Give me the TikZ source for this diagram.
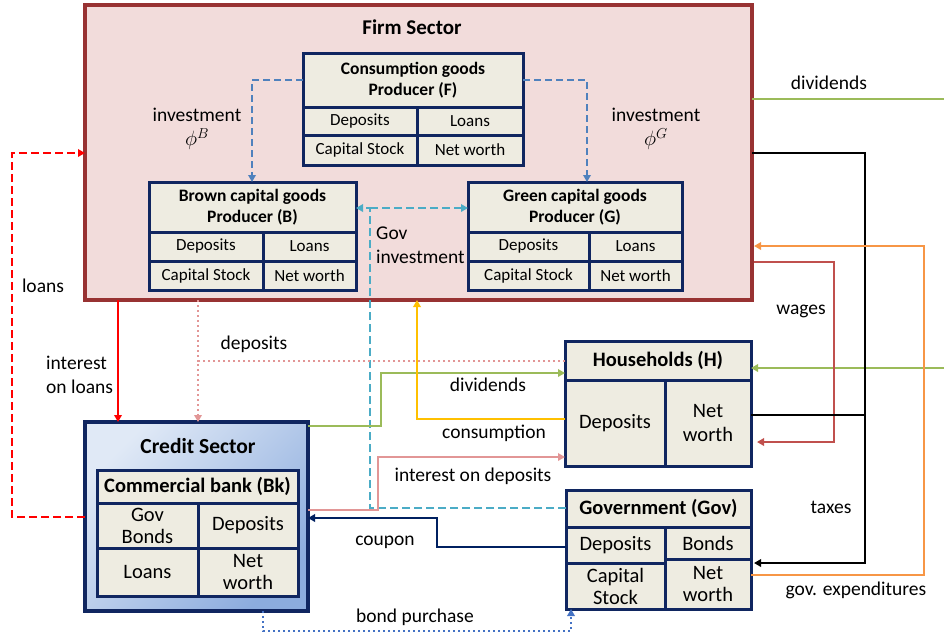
\documentclass[tikz,border=0pt]{standalone}
\usepackage{fontspec}
\setmainfont{Carlito}
\usetikzlibrary{arrows.meta}
\definecolor{firmbd}{RGB}{152,50,50}
\definecolor{firmbg}{RGB}{242,220,219}
\definecolor{cellbg}{RGB}{238,236,225}
\definecolor{navy}{RGB}{16,38,96}
\definecolor{credtop}{RGB}{224,233,246}
\definecolor{credbot}{RGB}{140,172,222}
\definecolor{invblue}{RGB}{79,129,189}
\definecolor{govcyan}{RGB}{75,172,198}
\definecolor{deppink}{RGB}{226,150,150}
\definecolor{divgreen}{RGB}{155,187,89}
\definecolor{consyel}{RGB}{255,192,0}
\definecolor{coupnavy}{RGB}{0,32,96}
\definecolor{bondblue}{RGB}{68,114,196}
\definecolor{wagered}{RGB}{192,80,77}
\definecolor{govorange}{RGB}{247,150,70}
\newcommand{\tcell}[7][]{\node[cell,minimum width={(#5-#3)*1pt},minimum height={(#6-#4)*1pt},#1] (#2) at ({(#3+#5)/2},{(#4+#6)/2}) {#7};}
\tikzset{
  cell/.style={draw=navy,fill=cellbg,line width=3pt,inner sep=0pt,outer sep=0pt,align=center,font=\fontsize{17}{20}\selectfont},
  smallhead/.style={font=\bfseries\fontsize{17.5}{21}\selectfont},
  bigcell/.style={font=\fontsize{20.5}{24}\selectfont},
  bighead/.style={font=\bfseries\fontsize{20.5}{24}\selectfont},
  lbl/.style={inner sep=0pt,align=center,font=\fontsize{19.5}{24}\selectfont},
  conn/.style={line width=2.8pt,-{Triangle[length=7pt,width=7.5pt]}},
  plain/.style={line width=2.8pt},
}
\begin{document}
\begin{tikzpicture}[x=1pt,y=-1pt]
\useasboundingbox (0,0) rectangle (944,633);
% Firm sector
\node[draw=firmbd,fill=firmbg,line width=4.5pt,minimum width=667pt,minimum height=295pt,inner sep=0pt,outer sep=0pt] (firm) at (418.5,152.5) {};
\node[inner sep=0pt,font=\bfseries\fontsize{21}{24}\selectfont] (firmtitle) at (412,27) {Firm Sector};
% Consumption goods producer F
\tcell[smallhead]{F}{303}{53}{523}{107}{Consumption goods\\Producer (F)}
\tcell{Fdep}{303}{107}{417}{135}{Deposits}
\tcell{Floan}{417}{107}{523}{135}{Loans}
\tcell{Fcap}{303}{135}{417}{165}{Capital Stock}
\tcell{Fnw}{417}{135}{523}{165}{Net worth}
% Brown B
\tcell[smallhead]{B}{149}{182}{356}{232}{Brown capital goods\\Producer (B)}
\tcell{Bdep}{149}{232}{263}{261}{Deposits}
\tcell{Bloan}{263}{232}{356}{261}{Loans}
\tcell{Bcap}{149}{261}{263}{290}{Capital Stock}
\tcell{Bnw}{263}{261}{356}{290}{Net worth}
% Green G
\tcell[smallhead]{G}{468}{182}{682}{232}{Green capital goods\\Producer (G)}
\tcell{Gdep}{468}{232}{589}{261}{Deposits}
\tcell{Gloan}{589}{232}{682}{261}{Loans}
\tcell{Gcap}{468}{261}{589}{290}{Capital Stock}
\tcell{Gnw}{589}{261}{682}{290}{Net worth}
% Credit sector
\node[draw=navy,line width=4pt,top color=credtop,bottom color=credbot,shading angle=45,minimum width=223pt,minimum height=189pt,inner sep=0pt,outer sep=0pt] (credit) at (196.5,516.5) {};
\node[inner sep=0pt,font=\bfseries\fontsize{21.5}{24}\selectfont] (credtitle) at (198,446) {Credit Sector};
\tcell[bighead]{bank}{97}{470}{298}{503}{Commercial bank (Bk)}
\tcell[bigcell]{bkbonds}{97}{503}{198}{548}{Gov\\[-2pt]Bonds}
\tcell[bigcell]{bkdep}{198}{503}{298}{548}{Deposits}
\tcell[bigcell]{bkloan}{97}{548}{198}{596}{Loans}
\tcell[bigcell]{bknw}{198}{548}{298}{596}{Net\\[-2pt]worth}
% Households
\tcell[draw=none,fill=none]{hh}{565}{341}{751}{466}{}
\tcell[bighead]{hhhead}{565}{341}{751}{380}{Households (H)}
\tcell[bigcell]{hhdep}{565}{380}{665}{466}{Deposits}
\tcell[bigcell]{hhnw}{665}{380}{751}{466}{Net\\worth}
% Government
\tcell[draw=none,fill=none]{gov}{566}{490}{751}{609}{}
\tcell[bighead]{govhead}{566}{490}{751}{527}{Government (Gov)}
\tcell[bigcell]{govdep}{566}{527}{665}{563}{Deposits}
\tcell[bigcell]{govbond}{665}{527}{751}{559}{Bonds}
\tcell[bigcell]{govcap}{566}{563}{665}{609}{Capital\\[-2pt]Stock}
\tcell[bigcell]{govnw}{665}{559}{751}{609}{Net\\[-2pt]worth}
% investment arrows (blue dashed)
\draw[conn,invblue,dash pattern=on 7pt off 4pt] (F.west |- 0,80) -| (B.north -| 252,0);
\draw[conn,invblue,dash pattern=on 7pt off 4pt] (F.east |- 0,80) -| (G.north -| 587,0);
% Gov investment (cyan dashed)
\coordinate (gi) at (370,208);
\draw[conn,govcyan,dash pattern=on 8pt off 4pt] (gov.west |- 0,508) -| (gi) -- (B.east |- gi);
\draw[conn,govcyan,dash pattern=on 8pt off 4pt] (gi) -- (G.west |- gi);
% loans (red dashed)
\draw[conn,red,dash pattern=on 8pt off 4pt] (credit.west |- 0,517) -- ++(-73,0) |- (firm.west |- 0,153);
% interest on loans
\draw[conn,red] (firm.south -| 118,0) -- (credit.north -| 118,0);
% deposits (pink dotted)
\coordinate (dj) at (198,361);
\draw[plain,deppink,dash pattern=on 2.4pt off 2.6pt] (firm.south -| dj) -- (dj);
\draw[conn,deppink,dash pattern=on 2.4pt off 2.6pt] (hh.west |- dj) -- (dj) -- (credit.north -| dj);
% dividends (green)
\draw[conn,divgreen] (credit.east |- 0,426) -- (381,426) |- (hh.west |- 0,373);
\coordinate (divout) at (944,99);
\coordinate (divin) at (944,368);
\draw[plain,divgreen] (firm.east |- divout) -- (divout);
\draw[conn,divgreen] (divin) -- (hh.east |- divin);
% consumption
\draw[conn,consyel] (hh.west |- 0,419) -| (firm.south -| 417,0);
% interest on deposits
\draw[conn,deppink] (credit.east |- 0,510) -- (378,510) |- (hh.west |- 0,457);
% coupon
\draw[conn,coupnavy] (gov.west |- 0,547) -- (437,547) |- (credit.east |- 0,518);
% bond purchase
\draw[conn,bondblue,dash pattern=on 2.4pt off 2.6pt] (credit.south -| 263,0) |- (571,631) -- (gov.south -| 571,0);
% wages
\draw[conn,wagered] ([xshift=2pt]firm.east |- 0,262) -| (834,442) -- ([xshift=6pt]hh.east |- 0,442);
% taxes
\draw[conn,black] (firm.east |- 0,153) -| (865,563) -- ([xshift=3pt]gov.east |- 0,563);
\draw[plain,black] (hh.east |- 0,415) -- (865,415);
% gov expenditures
\draw[conn,govorange] (gov.east |- 0,575) -| (924,246) -- ([xshift=2pt]firm.east |- 0,246);
% labels
\node[lbl] (linvB) at (197,115) {investment};
\node[lbl,font=\fontsize{22}{24}\selectfont] (phiB) at (197,139) {$\phi^{B}$};
\node[lbl] (linvG) at (656,115) {investment};
\node[lbl,font=\fontsize{22}{24}\selectfont] (phiG) at (656,139) {$\phi^{G}$};
\node[lbl,anchor=west,align=left] (lgovinv) at (376,245) {Gov\\investment};
\node[lbl] (lloans) at (43,286) {loans};
\node[lbl,anchor=west,align=left] (lintloans) at (46,375) {interest\\on loans};
\node[lbl] (ldeps) at (254,344) {deposits};
\node[lbl] (ldiv1) at (488,385) {dividends};
\node[lbl] (lcons) at (494,433) {consumption};
\node[lbl] (lintdep) at (473,476) {interest on deposits};
\node[lbl] (lcoupon) at (385,542) {coupon};
\node[lbl] (lbond) at (415,617) {bond purchase};
\node[lbl] (ldiv2) at (829,83) {dividends};
\node[lbl] (lwages) at (801,311) {wages};
\node[lbl] (ltaxes) at (831,507) {taxes};
\node[lbl] (lgovexp) at (856,590) {gov. expenditures};
\end{tikzpicture}
\end{document}
